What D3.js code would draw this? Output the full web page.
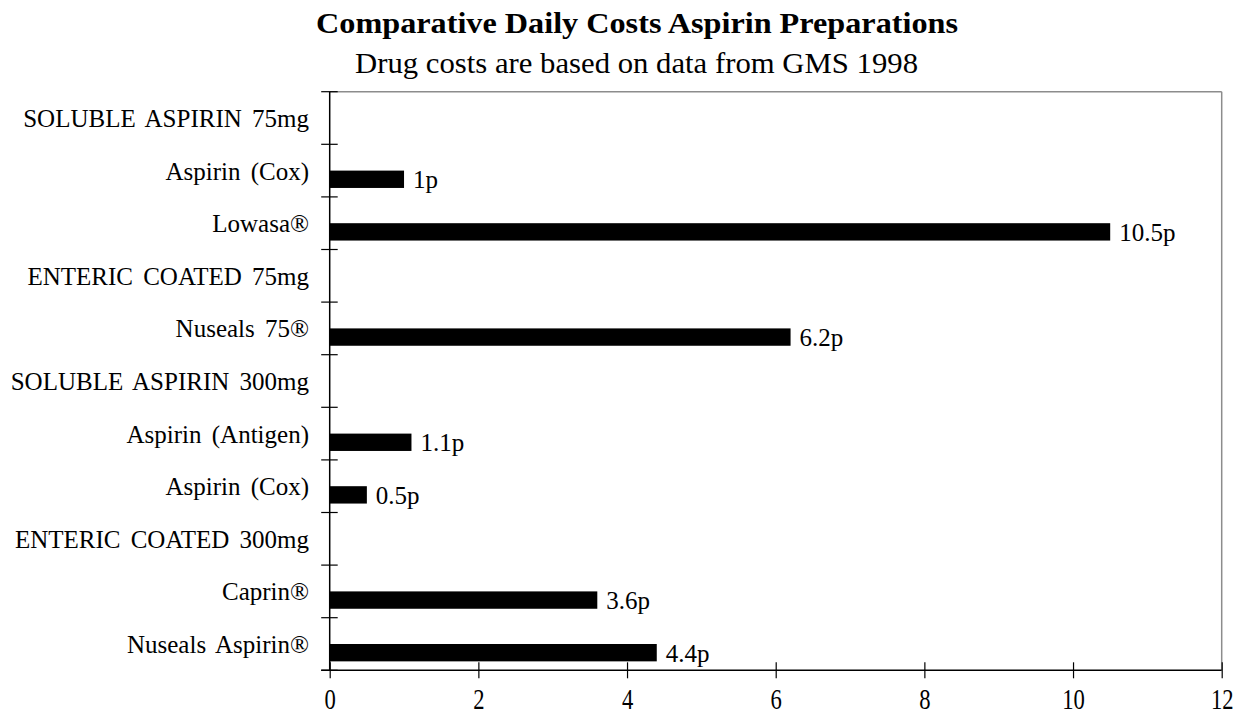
<!DOCTYPE html>
<html>
<head>
<meta charset="utf-8">
<script src="https://cdn.jsdelivr.net/npm/d3@7"></script>
<style>
  html, body { margin: 0; padding: 0; background: #fff; }
  svg { display: block; }
  text { font-family: "Liberation Serif", "Times New Roman", serif; fill: #000; }
</style>
</head>
<body>
<svg id="chart" width="1251" height="722"></svg>
<script>
const categories = [
  "SOLUBLE ASPIRIN 75mg",
  "Aspirin (Cox)",
  "Lowasa®",
  "ENTERIC COATED 75mg",
  "Nuseals 75®",
  "SOLUBLE ASPIRIN 300mg",
  "Aspirin (Antigen)",
  "Aspirin (Cox)",
  "ENTERIC COATED 300mg",
  "Caprin®",
  "Nuseals Aspirin®"
];
const costs = [null, 1, 10.5, null, 6.2, null, 1.1, 0.5, null, 3.6, 4.4];
const xTicks = [0, 2, 4, 6, 8, 10, 12];
const titleText = "Comparative Daily Costs Aspirin Preparations";
const subtitleText = "Drug costs are based on data from GMS 1998";

const svg = d3.select("#chart");
const pL = 329.7, pR = 1221.7, pT = 91.7, pB = 670.3;

const x = d3.scaleLinear().domain([0, 12]).range([pL, pR]);
const y = d3.scaleBand().domain(d3.range(categories.length)).range([pT, pB]).padding(0);
const bw = y.bandwidth();

// Title & subtitle
svg.append("text").attr("x", 637).attr("y", 33).attr("text-anchor", "middle")
  .attr("textLength", 642).attr("lengthAdjust", "spacingAndGlyphs")
  .style("font-size", "29px").style("font-weight", "bold").text(titleText);
svg.append("text").attr("x", 636.5).attr("y", 73).attr("text-anchor", "middle")
  .attr("textLength", 563).attr("lengthAdjust", "spacingAndGlyphs")
  .style("font-size", "30px").text(subtitleText);

// Plot border (gray top/right)
svg.append("line").attr("x1", pL).attr("x2", pR).attr("y1", pT).attr("y2", pT)
  .attr("stroke", "#8c8c8c").attr("stroke-width", 1.5);
svg.append("line").attr("x1", pR).attr("x2", pR).attr("y1", pT).attr("y2", pB)
  .attr("stroke", "#8c8c8c").attr("stroke-width", 1.5);

// Bars
const data = categories.map((c, i) => ({ i, c, v: costs[i] }));
svg.append("g").selectAll("rect").data(data.filter(d => d.v != null)).join("rect")
  .attr("x", x(0))
  .attr("y", d => y(d.i) + bw * 0.5)
  .attr("width", d => x(d.v) - x(0))
  .attr("height", bw * 0.33)
  .attr("fill", "#000");

// Value labels
svg.append("g").selectAll("text").data(data.filter(d => d.v != null)).join("text")
  .attr("x", d => x(d.v) + 9)
  .attr("y", d => y(d.i) + bw * 0.665 + 9)
  .style("font-size", "25px")
  .text(d => d.v + "p");

// Category labels
svg.append("g").selectAll("text").data(data).join("text")
  .attr("x", 309)
  .attr("y", d => y(d.i) + bw / 2 + 9)
  .attr("text-anchor", "end")
  .style("font-size", "25px")
  .style("word-spacing", "4px")
  .text(d => d.c);

// Y axis line & ticks (at band boundaries)
svg.append("line").attr("x1", pL).attr("x2", pL).attr("y1", pT).attr("y2", pB)
  .attr("stroke", "#000").attr("stroke-width", 1.5);
const bounds = d3.range(categories.length + 1).map(k => pT + k * bw);
svg.append("g").selectAll("line").data(bounds).join("line")
  .attr("x1", pL - 8.5).attr("x2", pL + 8)
  .attr("y1", d => d).attr("y2", d => d)
  .attr("stroke", "#000").attr("stroke-width", 1.2);

// X axis
const xAxis = d3.axisBottom(x).tickValues(xTicks).tickSize(0).tickFormat(d3.format("d"));
const gx = svg.append("g").attr("transform", `translate(0,${pB})`).call(xAxis);
gx.select(".domain").attr("stroke", "#000").attr("stroke-width", 1.5).attr("d", `M${pL - 8.5},0H${pR}`);
gx.selectAll(".tick line").attr("y1", -8).attr("y2", 8).attr("stroke", "#000").attr("stroke-width", 1.2);
gx.selectAll(".tick text")
  .attr("y", 0).attr("dy", null)
  .style("font-family", "'Liberation Serif', serif")
  .style("font-size", "29px")
  .attr("transform", "translate(0,39) scale(0.78,1)")
  .attr("fill", "#000");
</script>
</body>
</html>
